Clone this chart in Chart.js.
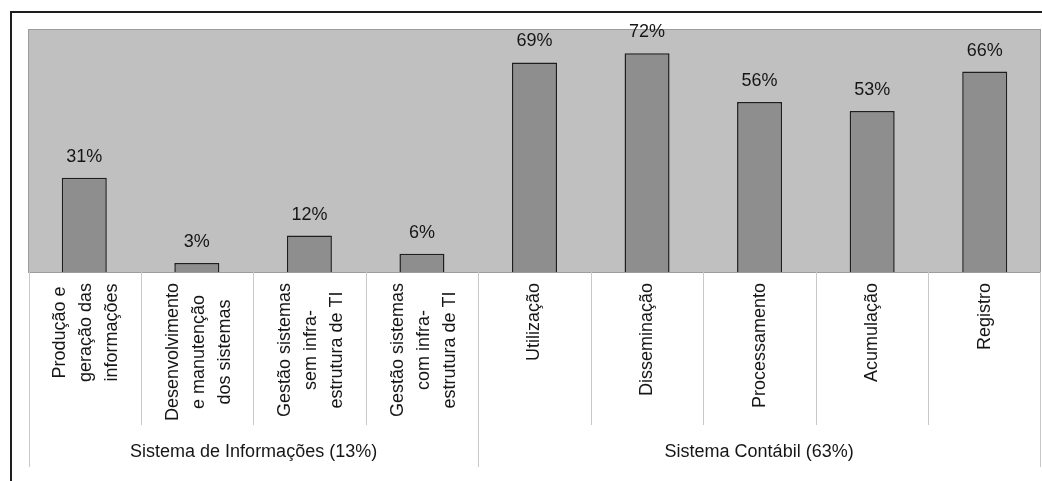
<!DOCTYPE html>
<html lang="pt-BR">
<head>
  <meta charset="UTF-8" />
  <title>Sistema de Informações x Sistema Contábil</title>
  <script src="https://cdn.jsdelivr.net/npm/chart.js"></script>
  <style>
    body {
      margin: 0;
      background: #fff;
      overflow: hidden;
    }
    #grafico {
      display: block;
    }
  </style>
</head>
<body>
  <canvas id="grafico" width="1042" height="481"></canvas>

  <script>
    // Categorias (quebradas em linhas como no original)
    const categorias = [
      ['Produção e', 'geração das', 'informações'],
      ['Desenvolvimento', 'e manutenção', 'dos sistemas'],
      ['Gestão sistemas', 'sem infra-', 'estrutura de TI'],
      ['Gestão sistemas', 'com infra-', 'estrutura de TI'],
      'Utilização',
      'Disseminação',
      'Processamento',
      'Acumulação',
      'Registro'
    ];
    const valores = [31, 3, 12, 6, 69, 72, 56, 53, 66];

    // Grupos do eixo x
    const grupos = ['Sistema de Informações (13%)', 'Sistema Contábil (63%)'];
    const tamanhoGrupos = [4, 5];

    const fonte = '"Liberation Sans", Arial, sans-serif';

    // fundo branco, moldura, área do gráfico cinza
    const fundo = {
      id: 'fundo',
      beforeDraw(chart) {
        const ctx = chart.ctx;
        ctx.save();
        ctx.fillStyle = '#fff';
        ctx.fillRect(0, 0, chart.width, chart.height);
        ctx.strokeStyle = '#1e1e1e';
        ctx.lineWidth = 2;
        ctx.beginPath();
        ctx.moveTo(11, chart.height);
        ctx.lineTo(11, 12);
        ctx.lineTo(chart.width, 12);
        ctx.stroke();
        ctx.restore();
      },
      beforeDatasetsDraw(chart) {
        const a = chart.chartArea;
        const ctx = chart.ctx;
        ctx.save();
        ctx.fillStyle = '#c0c0c0';
        ctx.fillRect(a.left, a.top, a.right - a.left, a.bottom - a.top);
        ctx.strokeStyle = '#9c9c9c';
        ctx.lineWidth = 1;
        ctx.strokeRect(a.left + 0.5, a.top + 0.5, a.right - a.left - 1, a.bottom - a.top);
        ctx.restore();
      }
    };

    // rótulos de valor acima das barras
    const rotulos = {
      id: 'rotulos',
      afterDatasetsDraw(chart) {
        const ctx = chart.ctx;
        const meta = chart.getDatasetMeta(0);
        ctx.save();
        ctx.font = '18px ' + fonte;
        ctx.fillStyle = '#161616';
        ctx.textAlign = 'center';
        ctx.textBaseline = 'alphabetic';
        meta.data.forEach((bar, i) => {
          ctx.fillText(valores[i] + '%', bar.x, bar.y - 16);
        });
        ctx.restore();
      }
    };

    // categorias verticais, separadores e nomes dos grupos abaixo do eixo
    const gruposEixo = {
      id: 'gruposEixo',
      afterDraw(chart) {
        const x = chart.scales.x;
        const ctx = chart.ctx;
        const base = chart.chartArea.bottom;
        const n = categorias.length;
        const limite = i => {
          if (i === 0) return x.left + 1;
          if (i === n) return x.right - 1;
          return (x.getPixelForValue(i - 1) + x.getPixelForValue(i)) / 2;
        };
        const fimGrupo = [0];
        tamanhoGrupos.forEach(t => fimGrupo.push(fimGrupo[fimGrupo.length - 1] + t));

        ctx.save();
        ctx.strokeStyle = '#c8c8c8';
        ctx.lineWidth = 1;
        for (let i = 0; i <= n; i++) {
          const px = Math.round(limite(i)) + 0.5;
          const ate = fimGrupo.includes(i) ? 467 : 425;
          ctx.beginPath();
          ctx.moveTo(px, base);
          ctx.lineTo(px, ate);
          ctx.stroke();
        }

        ctx.font = '18px ' + fonte;
        ctx.fillStyle = '#161616';

        // rótulos das categorias, girados; linhas centradas entre si
        const lh = 26;
        categorias.forEach((cat, i) => {
          const linhas = Array.isArray(cat) ? cat : [cat];
          const larg = Math.max(...linhas.map(t => ctx.measureText(t).width));
          const cx = x.getPixelForValue(i) + (linhas.length > 1 ? 2 : 0);
          linhas.forEach((txt, j) => {
            const lx = cx + (j - (linhas.length - 1) / 2) * lh;
            ctx.save();
            ctx.translate(lx, base + 11 + larg / 2);
            ctx.rotate(-Math.PI / 2);
            ctx.textAlign = 'center';
            ctx.textBaseline = 'middle';
            ctx.fillText(txt, 0, 0);
            ctx.restore();
          });
        });

        ctx.textAlign = 'center';
        ctx.textBaseline = 'middle';
        grupos.forEach((g, k) => {
          const cx = (limite(fimGrupo[k]) + limite(fimGrupo[k + 1])) / 2;
          ctx.fillText(g, cx, 452);
        });
        ctx.restore();
      }
    };

    new Chart(document.getElementById('grafico'), {
      type: 'bar',
      data: {
        labels: categorias,
        datasets: [{
          data: valores,
          backgroundColor: '#8e8e8e',
          borderColor: '#1e1e1e',
          borderWidth: 1.5,
          barPercentage: 0.4,
          categoryPercentage: 1
        }]
      },
      options: {
        responsive: false,
        animation: false,
        layout: { padding: { left: 28, top: 29, right: 1, bottom: 0 } },
        scales: {
          x: {
            grid: { display: false, drawTicks: false },
            border: { display: false },
            ticks: { display: false },
            afterFit(scale) {
              scale.height = 209;
            }
          },
          y: {
            display: false,
            min: 0,
            max: 80
          }
        },
        plugins: {
          legend: { display: false },
          tooltip: { enabled: false }
        }
      },
      plugins: [fundo, rotulos, gruposEixo]
    });
  </script>
</body>
</html>
